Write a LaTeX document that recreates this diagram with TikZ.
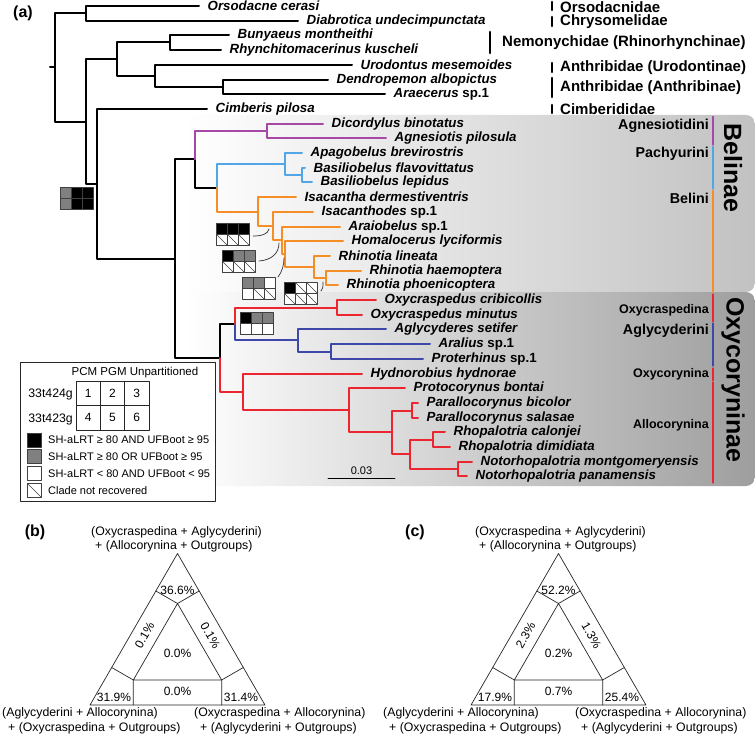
\documentclass[tikz,border=0pt]{standalone}
\usepackage{fontspec}
\setmainfont{Liberation Sans}
\usetikzlibrary{positioning}
\definecolor{agncol}{RGB}{166,72,166}
\definecolor{paccol}{RGB}{82,166,230}
\definecolor{belcol}{RGB}{246,142,40}
\definecolor{oxycol}{RGB}{236,38,48}
\definecolor{aglcol}{RGB}{62,72,168}
\tikzset{
  branch/.style={line width=2pt},
  taxon/.style={font=\fontsize{13.3}{14}\selectfont\bfseries\itshape, inner sep=0pt},
  family/.style={font=\fontsize{15}{16}\selectfont\bfseries, inner sep=0pt, anchor=west},
  fambar/.style={line width=2.6pt},
  tribe/.style={font=\fontsize{14.3}{15}\selectfont\bfseries, inner sep=0pt, anchor=east},
  subtribe/.style={font=\fontsize{12.5}{13}\selectfont\bfseries, inner sep=0pt, anchor=east},
  cladebar/.style={line width=1.3pt},
  subfam/.style={font=\fontsize{25}{26}\selectfont\bfseries, rotate=-90, inner sep=0pt},
  cellk/.style={fill=black, draw=black!75, line width=0.6pt},
  cellg/.style={fill=black!50, draw=black!75, line width=0.6pt},
  cellw/.style={fill=white, draw=black!75, line width=0.6pt},
  celln/.style={fill=white, draw=black!75, line width=0.6pt,
    path picture={\draw[line width=0.6pt] (path picture bounding box.north west) -- (path picture bounding box.south east);}},
  link/.style={line width=0.7pt, black!80},
  legcell/.style={draw=black!85, line width=0.8pt, minimum width=24.3pt, minimum height=24.5pt, inner sep=0pt, font=\fontsize{12}{13}\selectfont},
  legkey/.style={minimum size=14pt, inner sep=0pt},
  legtext/.style={font=\fontsize{11}{12}\selectfont, inner sep=0pt, anchor=west},
  rowtext/.style={font=\fontsize{12.3}{13}\selectfont, inner sep=0pt, anchor=east},
  tri/.style={line width=0.7pt, black!85},
  pct/.style={font=\fontsize{12}{13}\selectfont, inner sep=0pt},
  toplabel/.style={font=\fontsize{12.3}{13}\selectfont, inner sep=0pt, anchor=west},
  panel/.style={font=\fontsize{16}{17}\selectfont\bfseries, inner sep=0pt}
}
% support boxes: top row #2, bottom row #3
\newcommand{\supmark}[3]{%
  \foreach \cl [count=\i from 0] in {#2}
    \draw[cell\cl, shift={(#1)}] (\i*11,0) rectangle ++(11,11);
  \foreach \cl [count=\i from 0] in {#3}
    \draw[cell\cl, shift={(#1)}] (\i*11,11) rectangle ++(11,11);
}
% topology test triangle
\newcommand{\topoplot}[8]{%
  \begin{scope}[shift={(#1,654.5)}, yscale=-1]
    \coordinate (o1) at (90:101); \coordinate (o2) at (210:101); \coordinate (o3) at (330:101);
    \coordinate (i1) at (90:51); \coordinate (i2) at (210:51); \coordinate (i3) at (330:51);
    \draw[tri] (o1) -- (o2) -- (o3) -- cycle;
    \draw[tri] (i1) -- (i2) -- (i3) -- cycle;
    \draw[tri] (i1) -- ++(150:25) (i1) -- ++(30:25)
               (i2) -- ++(150:25) (i2) -- ++(270:25)
               (i3) -- ++(30:25) (i3) -- ++(270:25);
    \node[pct] (pt) at (0,64.5) {#2};
    \node[pct, rotate=60] (pl) at (150:38) {#3};
    \node[pct, rotate=-60] (pr) at (30:38) {#4};
    \node[pct] (pc) at (0,1) {#5};
    \node[pct] (pb) at (270:37) {#6};
    \node[pct] (pbl) at (-63.5,-43) {#7};
    \node[pct] (pbr) at (63.5,-43) {#8};
  \end{scope}}

\begin{document}
\begin{tikzpicture}[x=1pt, y=-1pt, line join=round, line cap=round]
\fill[white] (0,0) rectangle (755,738);
\useasboundingbox (0,0) rectangle (755,738);
%%%%%%%%%%%%%%%%%%%%%%%%%%%%%%%%%
\shade[left color=white, right color=black!24, rounded corners=9pt] (185,115) rectangle (755,292);
\shade[left color=white, right color=black!38, rounded corners=9pt] (185,292) rectangle (755,486);
%%%%%%%%%%%%%%%%%%%%%%%%%%%%%%%%%
\coordinate (t1) at (199,6);
\coordinate (t2) at (298,21);
\coordinate (t3) at (229,35);
\coordinate (t4) at (221,50);
\coordinate (t5) at (352,65);
\coordinate (t6) at (328,80);
\coordinate (t7) at (385,94);
\coordinate (t8) at (207,109);
\coordinate (t9) at (323,124);
\coordinate (t10) at (386,138);
\coordinate (t11) at (302,153);
\coordinate (t12) at (305,168);
\coordinate (t13) at (312,182);
\coordinate (t14) at (296,197);
\coordinate (t15) at (313,212);
\coordinate (t16) at (340,227);
\coordinate (t17) at (343,241);
\coordinate (t18) at (330,256);
\coordinate (t19) at (361,271);
\coordinate (t20) at (338,285);
\coordinate (t21) at (376,300);
\coordinate (t22) at (362,315);
\coordinate (t23) at (386,329);
\coordinate (t24) at (430,344);
\coordinate (t25) at (423,359);
\coordinate (t26) at (362,374);
\coordinate (t27) at (405,388);
\coordinate (t28) at (418,403);
\coordinate (t29) at (418,418);
\coordinate (t30) at (445,432);
\coordinate (t31) at (450,447);
\coordinate (t32) at (472,462);
\coordinate (t33) at (467,476);
%%%%%%%%%%%%%%%%%%%%%%%%%%%%%%%%%
\coordinate (nR0) at (50,67.5);
\coordinate (nR) at (55,67.5);
\coordinate (nA) at (86,13.5);
\coordinate (nB) at (86,121.55);
\coordinate (nNem) at (117,59.25);
\coordinate (nBun) at (170,42.5);
\coordinate (nAnt) at (155,76);
\coordinate (nDen) at (223,87);
\coordinate (nC) at (97,183.85);
\coordinate (nD) at (175,258.7);
\coordinate (nBel) at (195,159.4);
\coordinate (nAgn) at (267,131);
\coordinate (nE) at (217,187.8);
\coordinate (nPac) at (285,164);
\coordinate (nBas) at (302,175);
\coordinate (nF) at (258,211.6);
\coordinate (nG) at (273,226.25);
\coordinate (nH) at (282,240.5);
\coordinate (nI) at (285,254);
\coordinate (nJ) at (314,267);
\coordinate (nK) at (326,278);
\coordinate (nOxy) at (220,358);
\coordinate (nL) at (235,323.9);
\coordinate (nOxc) at (337,307.5);
\coordinate (nAgl) at (298,340.25);
\coordinate (nAra) at (331,351.5);
\coordinate (nM0) at (243,392.1);
\coordinate (nAll) at (349,410.2);
\coordinate (nM) at (392,432.4);
\coordinate (nPar) at (412,410.5);
\coordinate (nN) at (410,454.25);
\coordinate (nRho) at (433,439.5);
\coordinate (nNot) at (458,469);
%%%%%%%%%%%%%%%%%%%%%%%%%%%%%%%%%
\draw[branch] (nR0) -- (nR) (nR) |- (nA) (nR) |- (nB)
  (nA) |- (t1) (nA) |- (t2)
  (nB) |- (nNem) (nB) |- (nC)
  (nNem) |- (nBun) (nNem) |- (nAnt)
  (nBun) |- (t3) (nBun) |- (t4)
  (nAnt) |- (t5) (nAnt) |- (nDen)
  (nDen) |- (t6) (nDen) |- (t7)
  (nC) |- (t8) (nC) |- (nD)
  (nD) |- (nBel) (nD) |- (nOxy)
  (nBel) |- (nE) (nOxy) |- (nL);
\draw[branch, agncol] (nBel) |- (nAgn) (nAgn) |- (t9) (nAgn) |- (t10);
\draw[branch, paccol] (nE) |- (nPac) (nPac) |- (t11) (nPac) |- (nBas)
  (nBas) |- (t12) (nBas) |- (t13);
\draw[branch, belcol] (nE) |- (nF) (nF) |- (t14) (nF) |- (nG)
  (nG) |- (t15) (nG) |- (nH) (nH) |- (t16) (nH) |- (nI)
  (nI) |- (t17) (nI) |- (nJ) (nJ) |- (t18) (nJ) |- (nK)
  (nK) |- (t19) (nK) |- (t20);
\draw[branch, aglcol] (nL) |- (nAgl) (nAgl) |- (t23) (nAgl) |- (nAra)
  (nAra) |- (t24) (nAra) |- (t25);
\draw[branch, oxycol] (nL) |- (nOxc) (nOxc) |- (t21) (nOxc) |- (t22)
  (nOxy) |- (nM0) (nM0) |- (t26) (nM0) |- (nAll)
  (nAll) |- (t27) (nAll) |- (nM) (nM) |- (nPar) (nM) |- (nN)
  (nPar) |- (t28) (nPar) |- (t29) (nN) |- (nRho) (nN) |- (nNot)
  (nRho) |- (t30) (nRho) |- (t31) (nNot) |- (t32) (nNot) |- (t33);
%%%%%%%%%%%%%%%%%%%%%%%%%%%%%%%%%
\node[taxon, right=8.5pt of t1] (l1) {Orsodacne cerasi};
\node[taxon, right=8.5pt of t2] (l2) {Diabrotica undecimpunctata};
\node[taxon, right=8.5pt of t3] (l3) {Bunyaeus montheithi};
\node[taxon, right=8.5pt of t4] (l4) {Rhynchitomacerinus kuscheli};
\node[taxon, right=8.5pt of t5] (l5) {Urodontus mesemoides};
\node[taxon, right=8.5pt of t6] (l6) {Dendropemon albopictus};
\node[taxon, right=8.5pt of t7] (l7) {Araecerus \textup{sp.1}};
\node[taxon, right=8.5pt of t8] (l8) {Cimberis pilosa};
\node[taxon, right=8.5pt of t9] (l9) {Dicordylus binotatus};
\node[taxon, right=8.5pt of t10] (l10) {Agnesiotis pilosula};
\node[taxon, right=8.5pt of t11] (l11) {Apagobelus brevirostris};
\node[taxon, right=8.5pt of t12] (l12) {Basiliobelus flavovittatus};
\node[taxon, right=8.5pt of t13] (l13) {Basiliobelus lepidus};
\node[taxon, right=8.5pt of t14] (l14) {Isacantha dermestiventris};
\node[taxon, right=8.5pt of t15] (l15) {Isacanthodes \textup{sp.1}};
\node[taxon, right=8.5pt of t16] (l16) {Araiobelus \textup{sp.1}};
\node[taxon, right=8.5pt of t17] (l17) {Homalocerus lyciformis};
\node[taxon, right=8.5pt of t18] (l18) {Rhinotia lineata};
\node[taxon, right=8.5pt of t19] (l19) {Rhinotia haemoptera};
\node[taxon, right=8.5pt of t20] (l20) {Rhinotia phoenicoptera};
\node[taxon, right=8.5pt of t21] (l21) {Oxycraspedus cribicollis};
\node[taxon, right=8.5pt of t22] (l22) {Oxycraspedus minutus};
\node[taxon, right=8.5pt of t23] (l23) {Aglycyderes setifer};
\node[taxon, right=8.5pt of t24] (l24) {Aralius \textup{sp.1}};
\node[taxon, right=8.5pt of t25] (l25) {Proterhinus \textup{sp.1}};
\node[taxon, right=8.5pt of t26] (l26) {Hydnorobius hydnorae};
\node[taxon, right=8.5pt of t27] (l27) {Protocorynus bontai};
\node[taxon, right=8.5pt of t28] (l28) {Parallocorynus bicolor};
\node[taxon, right=8.5pt of t29] (l29) {Parallocorynus salasae};
\node[taxon, right=8.5pt of t30] (l30) {Rhopalotria calonjei};
\node[taxon, right=8.5pt of t31] (l31) {Rhopalotria dimidiata};
\node[taxon, right=8.5pt of t32] (l32) {Notorhopalotria montgomeryensis};
\node[taxon, right=8.5pt of t33] (l33) {Notorhopalotria panamensis};
%%%%%%%%%%%%%%%%%%%%%%%%%%%%%%%%%
\draw[fambar] (552,2) -- (552,10);
\node[family] (f1) at (560,7) {Orsodacnidae};
\draw[fambar] (552,17) -- (552,26);
\node[family] (f2) at (560,22) {Chrysomelidae};
\draw[fambar] (490,32) -- (490,53);
\node[family] (f3) at (502,43) {Nemonychidae (Rhinorhynchinae)};
\draw[fambar] (552,63) -- (552,72);
\node[family] (f4) at (560,67.5) {Anthribidae (Urodontinae)};
\draw[fambar] (552,78) -- (552,97);
\node[family] (f5) at (560,88) {Anthribidae (Anthribinae)};
\draw[fambar] (552,105) -- (552,113);
\node[family] (f6) at (560,109) {Cimberididae};
%%%%%%%%%%%%%%%%%%%%%%%%%%%%%%%%%
\draw[cladebar, agncol] (713,116.5) -- (713,145);
\draw[cladebar, paccol] (713,146.5) -- (713,189);
\draw[cladebar, belcol] (713,190.5) -- (713,292);
\draw[cladebar, oxycol] (713,294) -- (713,321.5);
\draw[cladebar, aglcol] (713,323) -- (713,366);
\draw[cladebar, oxycol] (713,368) -- (713,380.5);
\draw[cladebar, oxycol] (713,382) -- (713,483);
\node[tribe] (c1) at (709,126) {Agnesiotidini};
\node[tribe] (c2) at (709,154) {Pachyurini};
\node[tribe] (c3) at (709,198) {Belini};
\node[subtribe] (c4) at (709,310) {Oxycraspedina};
\node[tribe] (c5) at (709,331) {Aglycyderini};
\node[subtribe] (c6) at (709,374) {Oxycorynina};
\node[subtribe] (c7) at (709,425) {Allocorynina};
\node[subfam] (sf1) at (733,168) {Belinae};
\node[subfam] (sf2) at (733,380) {Oxycoryninae};
%%%%%%%%%%%%%%%%%%%%%%%%%%%%%%%%%
\coordinate (m0) at (60,187);
\coordinate (m1) at (216,223);
\coordinate (m2) at (222,250);
\coordinate (m3) at (242,277);
\coordinate (m4) at (284,282);
\coordinate (m5) at (240,312);
\supmark{m0}{g,k,k}{g,k,k}
\supmark{m1}{k,k,k}{n,n,n}
\supmark{m2}{k,g,g}{n,n,n}
\supmark{m3}{g,g,w}{w,n,n}
\supmark{m4}{k,n,n}{n,n,n}
\supmark{m5}{k,g,g}{w,w,w}
\coordinate (k1a) at (253,236); \coordinate (k1b) at (269,229);
\coordinate (k2a) at (259,261); \coordinate (k2b) at (279,243);
\coordinate (k3a) at (278,277); \coordinate (k3b) at (284,258);
\coordinate (k4a) at (321,291); \coordinate (k4b) at (323,282);
\draw[link] (k1a) .. controls (262,236) and (268,234) .. (k1b);
\draw[link] (k2a) .. controls (272,260) and (279,253) .. (k2b);
\draw[link] (k3a) .. controls (282,272) and (284,265) .. (k3b);
\draw[link] (k4a) .. controls (323,288) .. (k4b);
%%%%%%%%%%%%%%%%%%%%%%%%%%%%%%%%%
\coordinate (sb1) at (328,478);
\coordinate (sb2) at (395,478);
\draw[line width=0.9pt] (sb1) -- (sb2) node[midway, above=3pt, font=\fontsize{11}{12}\selectfont, inner sep=0pt] (sbt) {0.03};
%%%%%%%%%%%%%%%%%%%%%%%%%%%%%%%%%
\draw[fill=white, draw=black!85, line width=0.9pt] (20,362) rectangle (215,501);
\node[font=\fontsize{11.5}{12}\selectfont, inner sep=0pt] (hd) at (135,373) {PCM PGM Unpartitioned};
\foreach \n [count=\i from 0] in {1,2,3}
  \node[legcell] (g\n) at ({88.15+\i*24.3},393.25) {\n};
\foreach \n [count=\i from 0] in {4,5,6}
  \node[legcell] (g\n) at ({88.15+\i*24.3},417.75) {\n};
\node[rowtext] (r1) at (73,394) {33t424g};
\node[rowtext] (r2) at (73,419) {33t423g};
\node[legkey, cellk] (e1) at (34.5,440) {};
\node[legkey, cellg] (e2) at (34.5,456.5) {};
\node[legkey, cellw] (e3) at (34.5,473.5) {};
\node[legkey, celln] (e4) at (34.5,490.5) {};
\node[legtext] (x1) at (48,440) {SH-aLRT ≥ 80 AND UFBoot ≥ 95};
\node[legtext] (x2) at (48,456.5) {SH-aLRT ≥ 80 OR UFBoot ≥ 95};
\node[legtext] (x3) at (48,473.5) {SH-aLRT < 80 AND UFBoot < 95};
\node[legtext] (x4) at (48,490.5) {Clade not recovered};
%%%%%%%%%%%%%%%%%%%%%%%%%%%%%%%%%
\node[panel] (pa) at (23,13) {(a)};
\node[panel] (pnb) at (35,532) {(b)};
\node[panel] (pnc) at (415,532) {(c)};
%%%%%%%%%%%%%%%%%%%%%%%%%%%%%%%%%
\node[toplabel] (bt1) at (91,532) {(Oxycraspedina + Aglycyderini)};
\node[toplabel] (bt2) at (95,546) {+ (Allocorynina + Outgroups)};
\node[toplabel] (bl1) at (2,713) {(Aglycyderini + Allocorynina)};
\node[toplabel] (bl2) at (8,728) {+ (Oxycraspedina + Outgroups)};
\node[toplabel] (br1) at (194,713) {(Oxycraspedina + Allocorynina)};
\node[toplabel] (br2) at (200,728) {+ (Aglycyderini + Outgroups)};
\topoplot{177.5}{36.6\%}{0.1\%}{0.1\%}{0.0\%}{0.0\%}{31.9\%}{31.4\%}
%%%%%%%%%%%%%%%%%%%%%%%%%%%%%%%%%
\node[toplabel] (ct1) at (475,532) {(Oxycraspedina + Aglycyderini)};
\node[toplabel] (ct2) at (479,546) {+ (Allocorynina + Outgroups)};
\node[toplabel] (cl1) at (383,713) {(Aglycyderini + Allocorynina)};
\node[toplabel] (cl2) at (389,728) {+ (Oxycraspedina + Outgroups)};
\node[toplabel] (cr1) at (575,713) {(Oxycraspedina + Allocorynina)};
\node[toplabel] (cr2) at (581,728) {+ (Aglycyderini + Outgroups)};
\topoplot{558.5}{52.2\%}{2.3\%}{1.3\%}{0.2\%}{0.7\%}{17.9\%}{25.4\%}
%%%%%%%%%%%%%%%%%%%%%%%%%%%%%%%%%
\end{tikzpicture}
\end{document}
